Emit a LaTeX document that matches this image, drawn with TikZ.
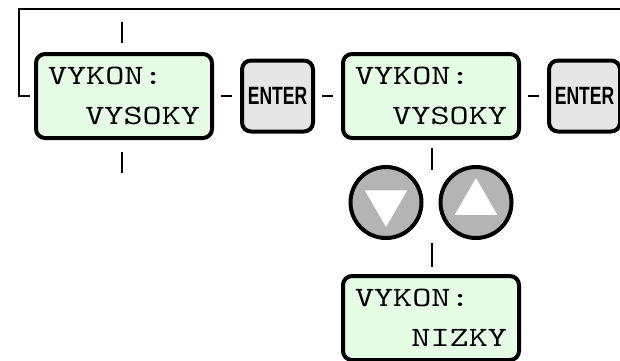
\documentclass[tikz,border=0pt]{standalone}
\usepackage{fontspec}
\usetikzlibrary{positioning, shapes.geometric}
\newfontfamily\lcdfont[FakeStretch=1.3]{lmmono10-regular.otf}
\newfontfamily\keyfont[FakeStretch=0.7]{Liberation Sans}
\definecolor{lcdgreen}{RGB}{229, 253, 229}
\definecolor{keygray}{RGB}{230, 230, 230}
\definecolor{btngray}{RGB}{180, 180, 180}

\begin{document}
\begin{tikzpicture}[
        x=1pt, y=1pt,
        node distance=26pt and 26pt,
        lcd/.style={rectangle, rounded corners=9pt, draw, line width=4pt,
                    fill=lcdgreen, minimum width=176pt, minimum height=84pt,
                    inner sep=0pt, text width=152pt, align=left,
                    font=\lcdfont\fontsize{28}{40}\selectfont},
        key/.style={rectangle, rounded corners=9pt, draw, line width=4pt,
                    fill=keygray, minimum width=71pt, minimum height=71pt,
                    inner sep=0pt, font=\keyfont\bfseries\fontsize{25}{25}\selectfont},
        btn/.style={circle, draw, line width=4pt, fill=btngray,
                    minimum size=71pt, inner sep=0pt},
        tri/.style={regular polygon, regular polygon sides=3, fill=white,
                    minimum size=49pt, inner sep=0pt},
        link/.style={line width=1.8pt},
        tie/.style={link, shorten <=7pt, shorten >=8pt},
    ]
        \useasboundingbox (0,0) rectangle (620,-360);

        % displays and keys in one row
        \node[lcd] (disp1) at (124,-96) {VYKON:\\\hspace*{\fill}VYSOKY};
        \node[key, right=of disp1] (enter1) {ENTER};
        \node[lcd, right=of enter1] (disp2) {VYKON:\\\hspace*{\fill}VYSOKY};
        \node[key, right=of disp2] (enter2) {ENTER};

        % arrow buttons and the lower display
        \node[btn, below=25pt of disp2, xshift=-45pt] (down) {};
        \node[btn, below=25pt of disp2, xshift=45pt] (up) {};
        \node[tri, shape border rotate=180] at (down) {};
        \node[tri] at (up) {};
        \node[lcd, below=134pt of disp2] (disp3) {VYKON:\\\hspace*{\fill}NIZKY};

        \draw[tie] (disp1) -- (enter1);
        \draw[tie] (enter1) -- (disp2);
        \draw[tie] (disp2) -- (enter2);

        \draw[link] ([shift={(-2,9)}]disp1.north) -- ++(0,21);
        \draw[link] ([shift={(-2,-12)}]disp1.south) -- ++(0,-21);
        \draw[link] ([shift={(1,-8)}]disp2.south) -- ++(0,-22);
        \draw[link] ([shift={(1,7)}]disp3.north) -- ++(0,24);

        % loop back over the top
        \coordinate (back) at (620,-9);
        \draw[link] ([xshift=-4pt]disp1.west) -- ++(-11,0) |- (back);
    \end{tikzpicture}
\end{document}
